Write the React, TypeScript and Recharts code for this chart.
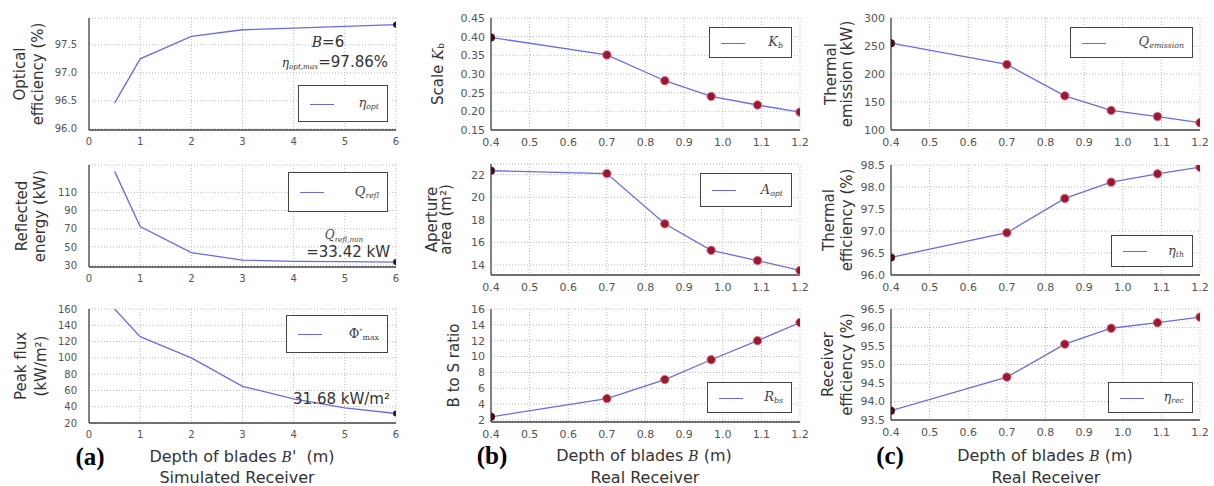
import React from "react";
import { CartesianGrid, Legend, Line, LineChart, XAxis, YAxis } from "recharts";

// (a) simulated receiver
const simDepth = [0.5, 1, 2, 3, 4, 5, 6];
const simOpticalEff = [96.46, 97.25, 97.65, 97.77, 97.8, 97.83, 97.86];
const simReflected = [133, 72.5, 43.8, 35.6, 34.2, 33.8, 33.42];
const simPeakFlux = [160, 126, 100, 65, 49.5, 38.5, 31.68];
const simTicks = [0, 1, 2, 3, 4, 5, 6];

// (b), (c) real receiver
const realDepth = [0.4, 0.7, 0.85, 0.97, 1.09, 1.2];
const scaleKb = [0.398, 0.351, 0.282, 0.24, 0.217, 0.198];
const apertureArea = [22.35, 22.1, 17.64, 15.29, 14.38, 13.5];
const bsRatio = [2.4, 4.7, 7.1, 9.6, 12.0, 14.3];
const thermalEmission = [255, 217, 161, 135, 124, 113];
const thermalEff = [96.4, 96.96, 97.74, 98.11, 98.3, 98.45];
const receiverEff = [93.75, 94.66, 95.55, 95.98, 96.13, 96.28];
const realTicks = [0.4, 0.5, 0.6, 0.7, 0.8, 0.9, 1.0, 1.1, 1.2];

const optTicks = [96.0, 96.5, 97.0, 97.5];
const reflTicks = [30, 50, 70, 90, 110];
const fluxTicks = [20, 40, 60, 80, 100, 120, 140, 160];
const kbTicks = [0.15, 0.2, 0.25, 0.3, 0.35, 0.4, 0.45];
const areaTicks = [14, 16, 18, 20, 22];
const ratioTicks = [2, 4, 6, 8, 10, 12, 14, 16];
const emissionTicks = [100, 150, 200, 250, 300];
const thEffTicks = [96.0, 96.5, 97.0, 97.5, 98.0, 98.5];
const recEffTicks = [93.5, 94.0, 94.5, 95.0, 95.5, 96.0, 96.5];

const LINE = "#6b6be6";
const BORDER = "#444";
const SANS = "'DejaVu Sans', sans-serif";
const SERIF = "'DejaVu Serif', serif";

const toRows = (xs: number[], ys: number[]) => xs.map((x, i) => ({ x, y: ys[i] }));
const f1 = (v: number) => v.toFixed(1);
const f2 = (v: number) => v.toFixed(2);
const plain = (v: number) => String(v);

const Sub = ({ children }: { children: React.ReactNode }) => (
  <sub style={{ fontSize: "0.6em", verticalAlign: "-0.3em" }}>{children}</sub>
);

type TitleLine = { x: number; content: React.ReactNode };

type PanelProps = {
  panelLeft: number;
  plotLeft: number;
  plotTop: number;
  plotW: number;
  plotH: number;
  xs: number[];
  ys: number[];
  xTicks: number[];
  xDomain: [number, number];
  xFmt: (v: number) => string;
  yTicks: number[];
  yDomain: [number, number];
  yFmt: (v: number) => string;
  tickFont: number;
  yGap: number;
  titles: TitleLine[];
  legend: { x: number; y: number; w: number; h: number; label: React.ReactNode };
  dots: "last" | "all";
};

function LegendBox({ w, h, label }: { w: number; h: number; label: React.ReactNode }) {
  return (
    <div
      style={{
        width: w,
        height: h,
        boxSizing: "border-box",
        border: `1.5px solid ${BORDER}`,
        background: "#fff",
        position: "relative",
      }}
    >
      <div
        style={{
          position: "absolute",
          left: 11,
          top: "50%",
          width: 24,
          borderTop: `1.5px solid ${LINE}`,
        }}
      />
      <div
        style={{
          position: "absolute",
          right: 8,
          top: 0,
          bottom: 0,
          display: "flex",
          alignItems: "center",
          fontFamily: SERIF,
          fontStyle: "italic",
          fontSize: 13,
          color: "#444",
        }}
      >
        {label}
      </div>
    </div>
  );
}

function Panel(p: PanelProps) {
  const mTop = 10;
  const yAxisW = p.plotLeft - p.panelLeft;
  const width = yAxisW + p.plotW + 10;
  const height = mTop + p.plotH + 22;
  const top = p.plotTop - mTop;
  const cy = mTop + p.plotH / 2;
  const last = p.xs.length - 1;

  const renderDot = (props: any) => {
    const { cx, cy: y, index } = props;
    const k = `dot-${index}`;
    if (p.dots === "last") {
      if (index !== last) return <g key={k} />;
      return <circle key={k} cx={cx} cy={y} r={3} fill="#222" />;
    }
    if (index === 0) return <circle key={k} cx={cx} cy={y} r={4} fill="#4a0c18" />;
    return <circle key={k} cx={cx} cy={y} r={4.2} fill="#9c1730" stroke="#dc7088" strokeWidth={1} />;
  };

  const tick = { fontSize: p.tickFont, fill: "#555", fontFamily: SANS };

  return (
    <div style={{ position: "absolute", left: p.panelLeft, top, width, height }}>
      <LineChart
        width={width}
        height={height}
        data={toRows(p.xs, p.ys)}
        margin={{ top: mTop, right: 10, bottom: 0, left: 0 }}
      >
        <CartesianGrid stroke="#b8b8b8" strokeDasharray="1 2" />
        <XAxis
          dataKey="x"
          type="number"
          domain={p.xDomain}
          ticks={p.xTicks}
          tickFormatter={p.xFmt}
          interval={0}
          height={22}
          tickLine={false}
          tick={tick}
          axisLine={{ stroke: BORDER, strokeWidth: 1.3 }}
          allowDataOverflow
        />
        <XAxis
          xAxisId="top"
          orientation="top"
          type="number"
          domain={p.xDomain}
          height={0}
          tick={false}
          tickLine={false}
          axisLine={{ stroke: BORDER, strokeWidth: 1.3 }}
        />
        <YAxis
          type="number"
          domain={p.yDomain}
          ticks={p.yTicks}
          tickFormatter={p.yFmt}
          interval={0}
          width={yAxisW}
          tickLine={false}
          tickMargin={p.yGap}
          tick={tick}
          axisLine={{ stroke: BORDER, strokeWidth: 1.3 }}
          allowDataOverflow
          label={{
            content: () => (
              <g>
                {p.titles.map((t, i) => {
                  const tx = t.x - p.panelLeft;
                  return (
                    <text
                      key={i}
                      x={tx}
                      y={cy}
                      transform={`rotate(-90 ${tx} ${cy})`}
                      textAnchor="middle"
                      dominantBaseline="central"
                      fontFamily={SANS}
                      fontSize={15}
                      fill="#333"
                    >
                      {t.content}
                    </text>
                  );
                })}
              </g>
            ),
          }}
        />
        <YAxis
          yAxisId="right"
          orientation="right"
          type="number"
          domain={p.yDomain}
          width={0}
          tick={false}
          tickLine={false}
          axisLine={{ stroke: BORDER, strokeWidth: 1.3 }}
        />
        <Legend
          layout="vertical"
          align="center"
          verticalAlign="middle"
          wrapperStyle={{ left: p.legend.x - p.panelLeft, top: p.legend.y - top }}
          content={() => <LegendBox w={p.legend.w} h={p.legend.h} label={p.legend.label} />}
        />
        <Line
          dataKey="y"
          type="linear"
          stroke={LINE}
          strokeWidth={1.3}
          dot={renderDot}
          activeDot={false}
          isAnimationActive={false}
        />
      </LineChart>
    </div>
  );
}

const A = { panelLeft: 0, plotLeft: 89, plotW: 307, xTicks: simTicks, xDomain: [0, 6] as [number, number], xFmt: plain, xs: simDepth, tickFont: 10, yGap: 6, dots: "last" as const };
const B = { panelLeft: 405, plotLeft: 491, plotW: 309, xTicks: realTicks, xDomain: [0.4, 1.2] as [number, number], xFmt: f1, xs: realDepth, tickFont: 11, yGap: 0, dots: "all" as const };
const C = { ...B, panelLeft: 805, plotLeft: 891 };

const abs = (left: number, top: number, extra: React.CSSProperties = {}): React.CSSProperties => ({
  position: "absolute",
  left,
  top,
  whiteSpace: "nowrap",
  ...extra,
});

export default function App() {
  const xTitle: React.CSSProperties = { fontFamily: SANS, fontSize: 16, color: "#333", transform: "translate(-50%, -50%)" };
  const letter: React.CSSProperties = { fontFamily: "'Liberation Serif', serif", fontWeight: 700, fontSize: 25, color: "#000", transform: "translate(-50%, -50%)" };
  const italicB = <i style={{ fontFamily: SERIF, fontSize: 14 }}>B</i>;

  return (
    <div style={{ position: "absolute", left: 0, top: 0, width: 1214, height: 486, background: "#fff", overflow: "hidden" }}>
      {/* (a) */}
      <Panel
        {...A}
        plotTop={18}
        plotH={112}
        ys={simOpticalEff}
        yTicks={optTicks}
        yDomain={[95.98, 97.98]}
        yFmt={f1}
        titles={[{ x: 20, content: "Optical" }, { x: 38, content: "efficiency (%)" }]}
        legend={{ x: 298, y: 85, w: 90, h: 37, label: <span>η<Sub>opt</Sub></span> }}
      />
      <Panel
        {...A}
        plotTop={165}
        plotH={102}
        ys={simReflected}
        yTicks={reflTicks}
        yDomain={[28, 140]}
        yFmt={plain}
        titles={[{ x: 22, content: "Reflected" }, { x: 40, content: "energy (kW)" }]}
        legend={{ x: 288, y: 172, w: 100, h: 40, label: <span>Q<Sub>refl</Sub></span> }}
      />
      <Panel
        {...A}
        plotTop={309}
        plotH={114}
        ys={simPeakFlux}
        yTicks={fluxTicks}
        yDomain={[20, 160]}
        yFmt={plain}
        titles={[{ x: 21, content: "Peak flux" }, { x: 41, content: "(kW/m²)" }]}
        legend={{ x: 286, y: 315, w: 102, h: 38, label: <span style={{ fontStyle: "normal" }}>Φ<sup style={{ fontSize: "0.5em" }}>*</sup><Sub>max</Sub></span> }}
      />

      {/* (b) */}
      <Panel
        {...B}
        plotTop={18}
        plotH={112}
        ys={scaleKb}
        yTicks={kbTicks}
        yDomain={[0.15, 0.45]}
        yFmt={f2}
        titles={[{ x: 438, content: <>Scale <tspan fontFamily={SERIF} fontStyle="italic">K</tspan><tspan fontSize={9} dy={3}>b</tspan></> }]}
        legend={{ x: 709, y: 27, w: 83, h: 31, label: <span>K<Sub>b</Sub></span> }}
      />
      <Panel
        {...B}
        plotTop={164}
        plotH={111}
        ys={apertureArea}
        yTicks={areaTicks}
        yDomain={[13.1, 22.95]}
        yFmt={plain}
        titles={[{ x: 432, content: "Aperture" }, { x: 446, content: "area (m²)" }]}
        legend={{ x: 700, y: 173, w: 92, h: 34, label: <span>A<Sub>opt</Sub></span> }}
      />
      <Panel
        {...B}
        plotTop={309}
        plotH={113}
        ys={bsRatio}
        yTicks={ratioTicks}
        yDomain={[1.75, 16]}
        yFmt={plain}
        titles={[{ x: 454, content: "B to S ratio" }]}
        legend={{ x: 707, y: 382, w: 85, h: 31, label: <span>R<Sub>bs</Sub></span> }}
      />

      {/* (c) */}
      <Panel
        {...C}
        plotTop={18}
        plotH={112}
        ys={thermalEmission}
        yTicks={emissionTicks}
        yDomain={[100, 300]}
        yFmt={plain}
        titles={[{ x: 831, content: "Thermal" }, { x: 847, content: "emission (kW)" }]}
        legend={{ x: 1070, y: 27, w: 123, h: 31, label: <span>Q<Sub>emission</Sub></span> }}
      />
      <Panel
        {...C}
        plotTop={165}
        plotH={110}
        ys={thermalEff}
        yTicks={thEffTicks}
        yDomain={[96, 98.5]}
        yFmt={f1}
        titles={[{ x: 829, content: "Thermal" }, { x: 847, content: "efficiency (%)" }]}
        legend={{ x: 1111, y: 235, w: 82, h: 32, label: <span>η<Sub>th</Sub></span> }}
      />
      <Panel
        {...C}
        plotTop={309}
        plotH={111}
        ys={receiverEff}
        yTicks={recEffTicks}
        yDomain={[93.5, 96.5]}
        yFmt={f1}
        titles={[{ x: 828, content: "Receiver" }, { x: 847, content: "efficiency (%)" }]}
        legend={{ x: 1108, y: 382, w: 85, h: 31, label: <span>η<Sub>rec</Sub></span> }}
      />

      {/* annotations in (a) */}
      <div style={abs(328, 42, { transform: "translate(-50%, -50%)", fontFamily: SANS, fontSize: 15, color: "#333" })}>
        {italicB}=6
      </div>
      <div style={abs(388, 62, { transform: "translate(-100%, -50%)", fontFamily: SANS, fontSize: 15, color: "#333" })}>
        <span style={{ fontFamily: SERIF, fontStyle: "italic", fontSize: 12 }}>η<Sub>opt,max</Sub></span>=97.86%
      </div>
      <div style={abs(344, 236, { transform: "translate(-50%, -50%)", fontFamily: SERIF, fontStyle: "italic", fontSize: 12, color: "#444" })}>
        Q<Sub>refl,min</Sub>
      </div>
      <div style={abs(390, 252, { transform: "translate(-100%, -50%)", fontFamily: SANS, fontSize: 15, color: "#333" })}>
        =33.42 kW
      </div>
      <div style={abs(390, 399, { transform: "translate(-100%, -50%)", fontFamily: SANS, fontSize: 15, color: "#333" })}>
        31.68 kW/m²
      </div>

      {/* x titles */}
      <div style={abs(242, 456, xTitle)}>
        Depth of blades {italicB}' &nbsp;(m)
      </div>
      <div style={abs(237, 477, xTitle)}>Simulated Receiver</div>
      <div style={abs(90, 457, letter)}>(a)</div>

      <div style={abs(644, 455, xTitle)}>Depth of blades {italicB} (m)</div>
      <div style={abs(645, 477, xTitle)}>Real Receiver</div>
      <div style={abs(492, 456, letter)}>(b)</div>

      <div style={abs(1045, 455, xTitle)}>Depth of blades {italicB} (m)</div>
      <div style={abs(1046, 477, xTitle)}>Real Receiver</div>
      <div style={abs(890, 456, letter)}>(c)</div>
    </div>
  );
}
